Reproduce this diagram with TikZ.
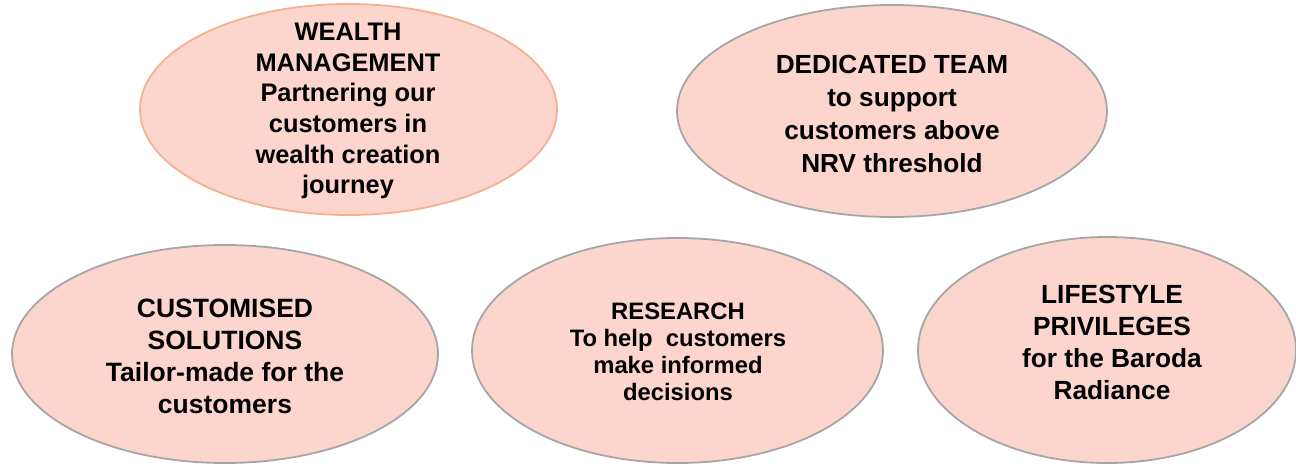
\documentclass[tikz,border=0pt]{standalone}
\usepackage{fontspec}
\setmainfont{Liberation Sans}
\definecolor{bubblefill}{RGB}{252,214,204}
\definecolor{bubbleline}{RGB}{166,166,166}
\definecolor{peachline}{RGB}{245,176,148}
\usetikzlibrary{shapes.geometric}
\tikzset{
  bubble/.style={ellipse, draw=bubbleline, line width=1.8pt, fill=bubblefill, inner sep=0pt},
  caption/.style={align=center, inner sep=0pt, text=black}
}

\begin{document}
\begin{tikzpicture}[x=1pt, y=-1pt]
  \useasboundingbox (0,0) rectangle (1296,466);
  % top row
  \node[bubble, draw=peachline, minimum width=417pt, minimum height=211pt] (wealth) at (348.5,109.5) {};
  \node[bubble, minimum width=430pt, minimum height=212pt] (team) at (892,111) {};
  % bottom row
  \node[bubble, minimum width=426pt, minimum height=218pt] (custom) at (225,354) {};
  \node[bubble, minimum width=411pt, minimum height=225pt] (research) at (677.5,350.5) {};
  \node[bubble, minimum width=378pt, minimum height=226pt] (lifestyle) at (1107,350) {};

  \node[caption, font=\fontsize{25.4}{30.7}\selectfont\bfseries] (wealthtxt) at (348,111)
    {WEALTH\\MANAGEMENT\\Partnering our\\customers in\\wealth creation\\journey};
  \node[caption, font=\fontsize{26.2}{33}\selectfont\bfseries] (teamtxt) at (892,114)
    {DEDICATED TEAM\\to support\\customers above\\NRV threshold};
  \node[caption, font=\fontsize{26.5}{32}\selectfont\bfseries] (customtxt) at (225,356)
    {CUSTOMISED\\SOLUTIONS\\Tailor-made for the\\customers};
  \node[caption, font=\fontsize{23.8}{27}\selectfont\bfseries] (researchtxt) at (678,352)
    {RESEARCH\\To help\ \ customers\\make informed\\decisions};
  \node[caption, font=\fontsize{26.3}{32}\selectfont\bfseries] (lifestyletxt) at (1112,342)
    {LIFESTYLE\\PRIVILEGES\\ for the Baroda\\Radiance};
\end{tikzpicture}
\end{document}
